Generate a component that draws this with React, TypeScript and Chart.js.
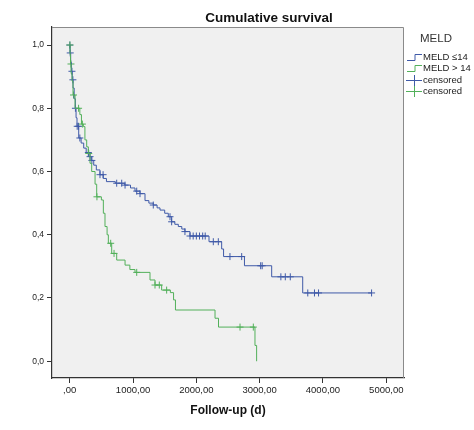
import React, { useEffect, useRef } from 'react';
import { Chart, registerables } from 'chart.js';

Chart.register(...registerables);

// Kaplan-Meier steps (days, cumulative survival)
const lowTimes = [0, 5, 15, 26, 40, 52, 70, 89, 100, 115, 142, 180, 221, 260, 300, 340, 379, 420, 478, 530, 580, 720, 870, 960, 1031, 1110, 1189, 1250, 1320, 1380, 1426, 1500, 1557, 1610, 1660, 1715, 1770, 1820, 1900, 2200, 2400, 2430, 2760, 3190, 3680, 4768];
const lowSurv = [1.0, 0.975, 0.945, 0.917, 0.89, 0.864, 0.83, 0.8, 0.77, 0.743, 0.706, 0.69, 0.674, 0.66, 0.647, 0.635, 0.62, 0.605, 0.59, 0.578, 0.568, 0.563, 0.557, 0.548, 0.538, 0.53, 0.508, 0.5, 0.494, 0.485, 0.478, 0.468, 0.457, 0.441, 0.433, 0.426, 0.418, 0.41, 0.396, 0.378, 0.355, 0.331, 0.302, 0.267, 0.216, 0.216];
const lowCensored = [2, 8, 35, 50, 90, 118, 140, 160, 294, 321, 350, 478, 527, 742, 821, 874, 1058, 1110, 1320, 1584, 1610, 1820, 1900, 1950, 2000, 2050, 2100, 2140, 2268, 2347, 2531, 2716, 3016, 3040, 3335, 3405, 3484, 3760, 3866, 3930, 4768];

const highTimes = [0, 5, 12, 22, 36, 52, 84, 160, 185, 215, 240, 268, 294, 320, 347, 400, 426, 500, 531, 557, 590, 610, 663, 742, 874, 950, 1031, 1268, 1347, 1452, 1590, 1640, 1670, 2295, 2350, 2926, 2952];
const highSurv = [1.0, 0.97, 0.94, 0.91, 0.886, 0.842, 0.8, 0.78, 0.75, 0.742, 0.7, 0.678, 0.657, 0.626, 0.6, 0.56, 0.52, 0.51, 0.468, 0.426, 0.4, 0.373, 0.341, 0.32, 0.304, 0.29, 0.281, 0.257, 0.241, 0.225, 0.217, 0.194, 0.162, 0.136, 0.108, 0.05, 0.0];
const highCensored = [3, 20, 60, 140, 200, 300, 430, 647, 700, 1058, 1347, 1415, 1531, 2690, 2900];

const xTicks = [0, 1000, 2000, 3000, 4000, 5000];
const yTicks = [0, 0.2, 0.4, 0.6, 0.8, 1.0];

const legendTitle = 'MELD';
const legendLabels = ['MELD \u226414', 'MELD > 14', 'censored', 'censored'];

const BLUE = '#3f5aa8';
const GREEN = '#52b05a';
const FONT = '"Liberation Sans", Arial, sans-serif';

const toPoints = (t: number[], s: number[]) => t.map((x, i) => ({ x, y: s[i] }));

const survAt = (t: number[], s: number[], at: number) => {
  let v = s[0];
  for (let i = 0; i < t.length; i++) {
    if (t[i] <= at) v = s[i];
  }
  return v;
};

const fmtX = (v: number) => (v === 0 ? ',00' : v.toFixed(2).replace('.', ','));
const fmtY = (v: number) => v.toFixed(1).replace('.', ',');

const decorPlugin = {
  id: 'decor',
  beforeDraw(chart: Chart) {
    const { ctx, chartArea: a } = chart;
    ctx.save();
    ctx.fillStyle = '#f0f0f0';
    ctx.fillRect(a.left, a.top, a.right - a.left, a.bottom - a.top);
    ctx.restore();
  },
  afterDraw(chart: Chart) {
    const { ctx, chartArea: a } = chart;
    ctx.save();
    // frame top/right
    ctx.strokeStyle = '#8a8a8a';
    ctx.lineWidth = 1;
    ctx.beginPath();
    ctx.moveTo(a.left, a.top + 0.5);
    ctx.lineTo(a.right - 0.5, a.top + 0.5);
    ctx.lineTo(a.right - 0.5, a.bottom);
    ctx.stroke();

    // title
    ctx.fillStyle = '#111';
    ctx.font = `bold 13.5px ${FONT}`;
    ctx.textAlign = 'center';
    ctx.textBaseline = 'middle';
    ctx.fillText('Cumulative survival', 269, 18);

    // legend
    ctx.font = `11.5px ${FONT}`;
    ctx.fillStyle = '#333';
    ctx.fillText(legendTitle, 436, 39);
    ctx.font = `9.5px ${FONT}`;
    ctx.textAlign = 'left';
    const rows = [57, 68, 80, 91];
    const cols = [BLUE, GREEN, BLUE, GREEN];
    rows.forEach((y, i) => {
      ctx.strokeStyle = cols[i];
      ctx.beginPath();
      if (i < 2) {
        ctx.moveTo(407, y + 3.5);
        ctx.lineTo(415, y + 3.5);
        ctx.lineTo(415, y - 2.5);
        ctx.lineTo(422, y - 2.5);
      } else {
        ctx.moveTo(406, y + 0.5);
        ctx.lineTo(422, y + 0.5);
        ctx.moveTo(414.5, y - 5);
        ctx.lineTo(414.5, y + 6);
      }
      ctx.stroke();
      ctx.fillStyle = '#222';
      ctx.fillText(legendLabels[i], 423, y + 0.5);
    });
    ctx.restore();
  },
};

const App: React.FC = () => {
  const canvasRef = useRef<HTMLCanvasElement>(null);

  useEffect(() => {
    document.body.style.margin = '0';
    if (!canvasRef.current) return;
    const chart = new Chart(canvasRef.current, {
      type: 'scatter',
      data: {
        datasets: [
          {
            type: 'line',
            data: toPoints(highTimes, highSurv),
            borderColor: GREEN,
            borderWidth: 1,
            pointRadius: 0,
            stepped: 'before',
            fill: false,
          },
          {
            type: 'line',
            data: toPoints(lowTimes, lowSurv),
            borderColor: BLUE,
            borderWidth: 1,
            pointRadius: 0,
            stepped: 'before',
            fill: false,
          },
          {
            type: 'scatter',
            data: highCensored.map((x) => ({ x, y: survAt(highTimes, highSurv, x) })),
            pointStyle: 'cross',
            pointRadius: 3.5,
            borderColor: GREEN,
            borderWidth: 1,
          },
          {
            type: 'scatter',
            data: lowCensored.map((x) => ({ x, y: survAt(lowTimes, lowSurv, x) })),
            pointStyle: 'cross',
            pointRadius: 3.5,
            borderColor: BLUE,
            borderWidth: 1,
          },
        ],
      },
      options: {
        animation: false,
        responsive: false,
        devicePixelRatio: 1,
        layout: { padding: { top: 27, right: 70, left: 0, bottom: 0 } },
        plugins: { legend: { display: false }, tooltip: { enabled: false }, title: { display: false } },
        scales: {
          x: {
            type: 'linear',
            min: -280,
            max: 5280,
            afterBuildTicks: (s: any) => {
              s.ticks = xTicks.map((value) => ({ value }));
            },
            afterFit: (s: any) => {
              s.height = 52;
            },
            ticks: {
              callback: (v: any) => fmtX(Number(v)),
              font: { family: FONT, size: 9.5 },
              color: '#222',
              padding: 2,
              maxRotation: 0,
            },
            grid: { display: true, drawOnChartArea: false, drawTicks: true, tickLength: 5, color: '#333' },
            border: { display: true, color: '#333', width: 1.2 },
            title: {
              display: true,
              text: 'Follow-up (d)',
              font: { family: FONT, size: 12, weight: 'bold' },
              color: '#111',
              padding: { top: 0, bottom: 12 },
            },
          },
          y: {
            type: 'linear',
            min: -0.053,
            max: 1.057,
            afterBuildTicks: (s: any) => {
              s.ticks = yTicks.map((value) => ({ value }));
            },
            afterFit: (s: any) => {
              s.width = 52;
            },
            ticks: {
              callback: (v: any) => fmtY(Number(v)),
              font: { family: FONT, size: 8.5 },
              color: '#222',
              padding: 3,
            },
            grid: { display: true, drawOnChartArea: false, drawTicks: true, tickLength: 5, color: '#333' },
            border: { display: true, color: '#333', width: 1.2 },
          },
        },
      },
      plugins: [decorPlugin],
    });
    return () => chart.destroy();
  }, []);

  return (
    <div style={{ width: 474, height: 430, background: '#fff' }}>
      <canvas ref={canvasRef} width={474} height={430} />
    </div>
  );
};

export default App;
